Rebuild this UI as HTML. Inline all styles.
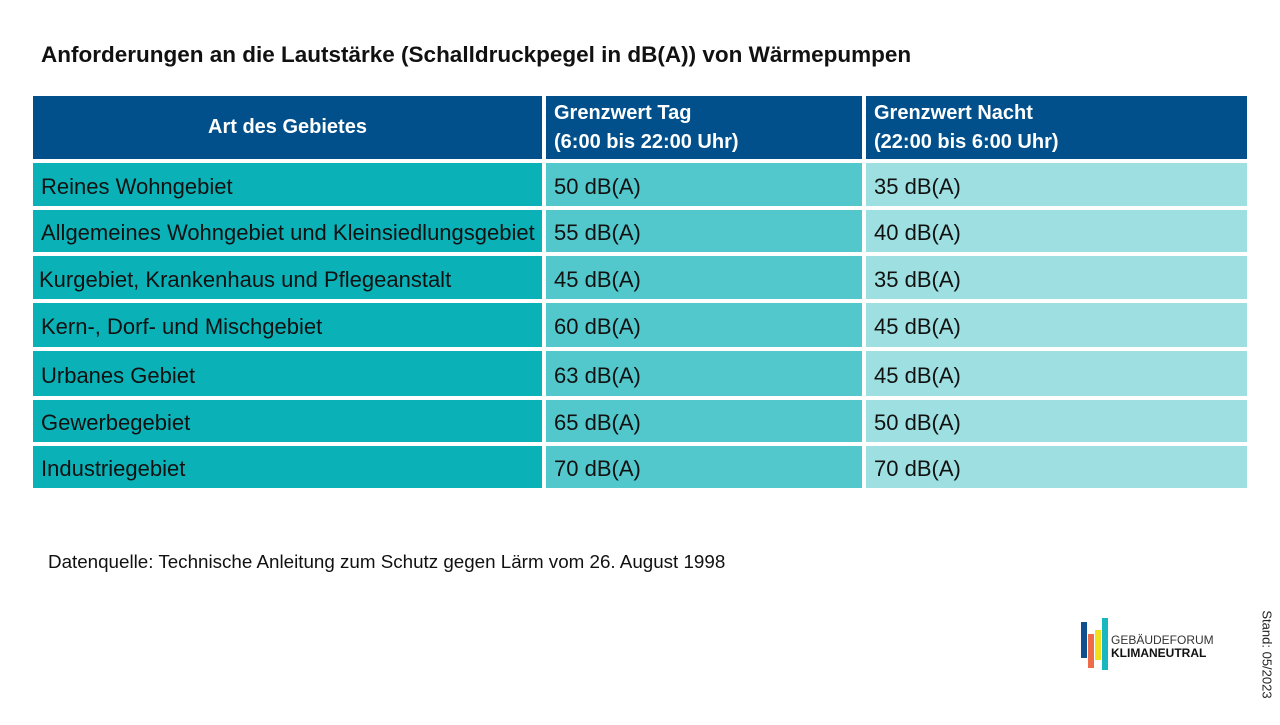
<!DOCTYPE html>
<html><head><meta charset="utf-8"><style>
body{margin:0;width:1280px;height:720px;background:#fff;position:relative;overflow:hidden;font-family:"Liberation Sans",sans-serif;}
.a{position:absolute;box-sizing:border-box;}
.c{position:absolute;box-sizing:border-box;display:flex;align-items:center;padding-left:8px;padding-top:4px;font-size:22px;color:#111;white-space:nowrap;}
.h{background:#01508b;color:#fff;font-weight:bold;font-size:20px;line-height:29px;padding-top:0;}
.c1{background:#0ab2b8;}.c2{background:#52c8cc;}.c3{background:#9ee0e1;}
</style></head><body>
<div class="a" style="left:41px;top:42px;font-size:22.5px;font-weight:bold;color:#111;">Anforderungen an die Lautstärke (Schalldruckpegel in dB(A)) von Wärmepumpen</div>

<div class="c h" style="left:33px;top:96px;width:509px;height:63px;justify-content:center;padding:0;">Art des Gebietes</div>
<div class="c h" style="left:546px;top:96px;width:316px;height:63px;">Grenzwert Tag<br>(6:00 bis 22:00 Uhr)</div>
<div class="c h" style="left:866px;top:96px;width:381px;height:63px;">Grenzwert Nacht<br>(22:00 bis 6:00 Uhr)</div>

<div class="c c1" style="left:33px;top:163px;width:509px;height:43px;">Reines Wohngebiet</div>
<div class="c c2" style="left:546px;top:163px;width:316px;height:43px;">50 dB(A)</div>
<div class="c c3" style="left:866px;top:163px;width:381px;height:43px;">35 dB(A)</div>

<div class="c c1" style="left:33px;top:210px;width:509px;height:42px;">Allgemeines Wohngebiet und Kleinsiedlungsgebiet</div>
<div class="c c2" style="left:546px;top:210px;width:316px;height:42px;">55 dB(A)</div>
<div class="c c3" style="left:866px;top:210px;width:381px;height:42px;">40 dB(A)</div>

<div class="c c1" style="left:33px;top:256px;width:509px;height:43px;padding-left:6px;">Kurgebiet, Krankenhaus und Pflegeanstalt</div>
<div class="c c2" style="left:546px;top:256px;width:316px;height:43px;">45 dB(A)</div>
<div class="c c3" style="left:866px;top:256px;width:381px;height:43px;">35 dB(A)</div>

<div class="c c1" style="left:33px;top:303px;width:509px;height:44px;">Kern-, Dorf- und Mischgebiet</div>
<div class="c c2" style="left:546px;top:303px;width:316px;height:44px;">60 dB(A)</div>
<div class="c c3" style="left:866px;top:303px;width:381px;height:44px;">45 dB(A)</div>

<div class="c c1" style="left:33px;top:351px;width:509px;height:45px;">Urbanes Gebiet</div>
<div class="c c2" style="left:546px;top:351px;width:316px;height:45px;">63 dB(A)</div>
<div class="c c3" style="left:866px;top:351px;width:381px;height:45px;">45 dB(A)</div>

<div class="c c1" style="left:33px;top:400px;width:509px;height:42px;">Gewerbegebiet</div>
<div class="c c2" style="left:546px;top:400px;width:316px;height:42px;">65 dB(A)</div>
<div class="c c3" style="left:866px;top:400px;width:381px;height:42px;">50 dB(A)</div>

<div class="c c1" style="left:33px;top:446px;width:509px;height:42px;">Industriegebiet</div>
<div class="c c2" style="left:546px;top:446px;width:316px;height:42px;">70 dB(A)</div>
<div class="c c3" style="left:866px;top:446px;width:381px;height:42px;">70 dB(A)</div>

<div class="a" style="left:48px;top:551px;font-size:18.8px;color:#111;">Datenquelle: Technische Anleitung zum Schutz gegen Lärm vom 26. August 1998</div>

<div class="a" style="left:1081px;top:622px;width:6px;height:36px;background:#0f4f8f;"></div>
<div class="a" style="left:1088px;top:634px;width:6px;height:34px;background:#ef6c4a;"></div>
<div class="a" style="left:1095px;top:630px;width:6px;height:30px;background:#f1e21c;"></div>
<div class="a" style="left:1102px;top:618px;width:6px;height:52px;background:#19b8c0;"></div>
<div class="a" style="left:1111px;top:634px;font-size:12px;color:#333;line-height:13px;">GEBÄUDEFORUM<br><b style="color:#111">KLIMANEUTRAL</b></div>
<div class="a" style="left:1200px;top:650px;width:140px;font-size:13px;color:#222;transform:rotate(90deg);transform-origin:center;text-align:center;margin-left:-3px;margin-top:-3px;">Stand: 05/2023</div>
</body></html>
